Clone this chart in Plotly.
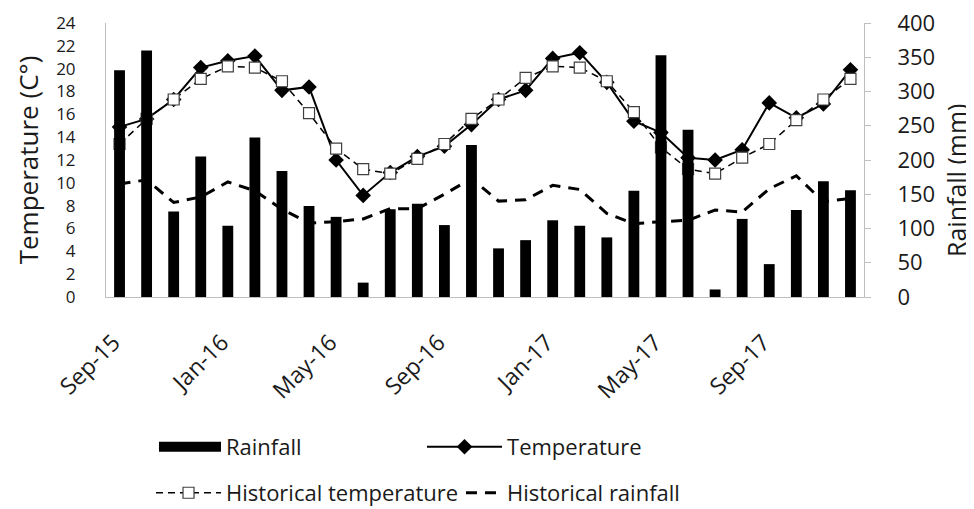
import plotly.graph_objects as go

months = ["Sep-15", "Oct-15", "Nov-15", "Dec-15", "Jan-16", "Feb-16", "Mar-16", "Apr-16",
          "May-16", "Jun-16", "Jul-16", "Aug-16", "Sep-16", "Oct-16", "Nov-16", "Dec-16",
          "Jan-17", "Feb-17", "Mar-17", "Apr-17", "May-17", "Jun-17", "Jul-17", "Aug-17",
          "Sep-17", "Oct-17", "Nov-17", "Dec-17"]
rainfall = [331, 360, 125, 205, 104, 233, 184, 133, 117, 21, 128, 136, 105, 222, 71,
            83, 112, 104, 87, 155, 353, 244, 11, 114, 48, 127, 169, 156]
temperature = [14.9, 15.6, 17.3, 20.1, 20.7, 21.1, 18.1, 18.4, 12.0, 8.9, 10.9, 12.3, 13.2, 15.1,
               17.3, 18.1, 20.9, 21.4, 18.8, 15.4, 14.4, 12.2, 12.0, 12.9, 17.0, 15.7, 16.9, 19.9]
hist_temperature = [13.4, 15.6, 17.3, 19.1, 20.2, 20.1, 18.9, 16.1, 13.0, 11.2, 10.8, 12.1, 13.4, 15.6,
                    17.3, 19.2, 20.2, 20.1, 18.9, 16.2, 13.1, 11.2, 10.8, 12.2, 13.4, 15.5, 17.3, 19.1]
hist_rainfall = [165, 171, 138, 146, 168, 155, 128, 108, 110, 114, 129, 129, 150, 173, 140,
                 142, 163, 157, 122, 107, 110, 112, 127, 124, 158, 177, 139, 144]
tick_labels = ["Sep-15", "Jan-16", "May-16", "Sep-16", "Jan-17", "May-17", "Sep-17"]
temp_ticks = list(range(0, 25, 2))
rain_ticks = list(range(0, 401, 50))

FONT = "Open Sans"
TXT = "#1a1a1a"
fig = go.Figure()
fig.add_trace(go.Bar(x=months, y=rainfall, name="Rainfall", yaxis="y2", showlegend=False,
                     legendgroup="rain",
                     marker=dict(color="black", line=dict(width=0)), width=0.4))
# legend swatch for the bars (wide black rectangle as in the original)
fig.add_trace(go.Scatter(x=[None], y=[None], name="Rainfall", mode="lines", legendgroup="rain",
                         yaxis="y2", line=dict(color="black", width=11), legend="legend"))
fig.add_trace(go.Scatter(x=months, y=temperature, name="Temperature", mode="lines+markers",
                         line=dict(color="black", width=2), legend="legend2",
                         marker=dict(symbol="diamond", size=12, color="black")))
fig.add_trace(go.Scatter(x=months, y=hist_temperature, name="Historical temperature",
                         mode="lines+markers", legend="legend3",
                         line=dict(color="black", width=1.5, dash="7px,5px"),
                         marker=dict(symbol="square", size=11, color="white",
                                     line=dict(color="#404040", width=1.2))))
fig.add_trace(go.Scatter(x=months, y=hist_rainfall, name="Historical rainfall", yaxis="y2",
                         mode="lines", legend="legend4",
                         line=dict(color="black", width=3, dash="11px,8px")))

axis_line = "#bfbfbf"


def leg(x, y, iw):
    return dict(orientation="h", xanchor="left", yanchor="middle", x=x, y=y,
                yref="container", itemwidth=iw, font=dict(size=22, color=TXT, family=FONT),
                bgcolor="rgba(0,0,0,0)", borderwidth=0)


fig.update_layout(
    width=966, height=501,
    margin=dict(l=98, r=110, t=15, b=212),
    paper_bgcolor="white", plot_bgcolor="white",
    font=dict(family=FONT, size=20, color=TXT),
    showlegend=True,
    legend=leg(0.0633, 0.1238, 62),
    legend2=leg(0.4169, 0.1238, 75),
    legend3=leg(0.0594, 0.032, 65),
    legend4=leg(0.4683, 0.032, 36),
    xaxis=dict(type="category", tickmode="array", tickvals=tick_labels, ticktext=tick_labels,
               tickangle=-45, showgrid=False, showline=True, linecolor=axis_line, linewidth=1,
               ticks="", tickfont=dict(size=23), range=[-0.5, 27.5], automargin=False,
               ticklabelstandoff=22, ticklabelshift=-6),
    yaxis=dict(range=[0, 24], tickmode="array", tickvals=temp_ticks, showgrid=False,
               showline=True, linecolor=axis_line, linewidth=1, ticks="", zeroline=False,
               tickfont=dict(size=17), ticklabelstandoff=26, automargin=False,
               ticklabeloverflow="allow",
               title=dict(text="Temperature (C°)", font=dict(size=26), standoff=10)),
    yaxis2=dict(range=[0, 400], tickmode="array", tickvals=rain_ticks, overlaying="y",
                side="right", showgrid=False, showline=True, linecolor=axis_line, linewidth=1,
                ticks="outside", ticklen=6, tickcolor=axis_line, zeroline=False,
                tickfont=dict(size=22), ticklabelstandoff=22, automargin=False,
                ticklabeloverflow="allow"),
    annotations=[dict(text="Rainfall (mm)", textangle=-90, xref="paper", yref="paper",
                      x=(956 - 106) / 758, y=0.4234, xanchor="center", yanchor="middle",
                      showarrow=False, font=dict(size=25, color=TXT, family=FONT))],
)
fig.write_html("out.html")
